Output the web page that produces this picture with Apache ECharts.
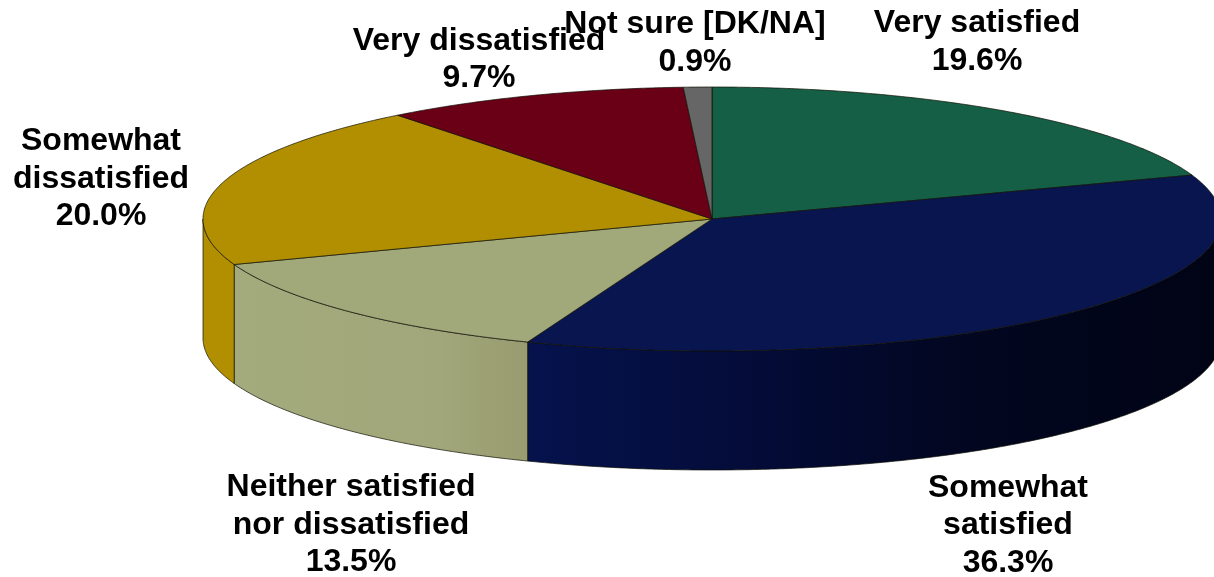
<!DOCTYPE html>
<html>
<head>
<meta charset="utf-8">
<style>html,body{margin:0;padding:0;background:#fff}#chart{width:1214px;height:577px}</style>
<script src="https://cdn.jsdelivr.net/npm/echarts@6/dist/echarts.min.js"></script>
</head>
<body>
<div id="chart"></div>
<script>
// Satisfaction survey shares, clockwise from twelve o'clock
const categories = ['Very satisfied', 'Somewhat satisfied', 'Neither satisfied nor dissatisfied', 'Somewhat dissatisfied', 'Very dissatisfied', 'Not sure [DK/NA]'];
const shares = [19.6, 36.3, 13.5, 20.0, 9.7, 0.9];
const labelLines = [['Very satisfied'], ['Somewhat', 'satisfied'], ['Neither satisfied', 'nor dissatisfied'], ['Somewhat', 'dissatisfied'], ['Very dissatisfied'], ['Not sure [DK/NA]']];

// Slice appearance
const topColors = ['#145f45', '#08154f', '#a1a87a', '#b18f00', '#6a0016', '#666666'];
const wallStops = [
  null,
  [[0, '#05124c'], [0.3, '#040c3a'], [0.65, '#02061f'], [1, '#010415']],
  [[0, '#a3aa7c'], [0.7, '#a1a77a'], [1, '#989c70']],
  [[0, '#b18f00'], [1, '#b18f00']],
  null,
  null
];

// Pie geometry in pixels
const pie = { cx: 712, cy: 219, rx: 509, ry: 132, depth: 119 };
// Label block centres (x, y of the first line) and line height
const labelAnchors = [[977, 23.5], [1008, 488], [351, 487.5], [101, 141.5], [479, 41], [695, 24.5]];
const lineHeight = 37.4;

const total = shares.reduce((a, b) => a + b, 0);
const startAngle = [];
shares.reduce((sum, v, i) => { startAngle[i] = sum / total * 360; return sum + v; }, 0);

function rimPoint(deg, drop) {
  const t = deg * Math.PI / 180;
  return [pie.cx + pie.rx * Math.sin(t), pie.cy - pie.ry * Math.cos(t) + (drop || 0)];
}
function arcPoints(from, to, drop) {
  const pts = [];
  const n = Math.max(2, Math.ceil((to - from) * 2));
  for (let k = 0; k <= n; k++) pts.push(rimPoint(from + (to - from) * k / n, drop));
  return pts;
}
const edge = { stroke: 'rgba(15,15,5,0.7)', lineWidth: 1 };

function renderWall(params, api) {
  const i = params.dataIndex;
  const a0 = startAngle[i];
  const a1 = a0 + api.value(0) / total * 360;
  const from = Math.max(a0, 90), to = Math.min(a1, 270);
  if (from >= to || !wallStops[i]) return { type: 'group', children: [] };
  const upper = arcPoints(from, to, 0);
  const lower = arcPoints(from, to, pie.depth).reverse();
  const xs = upper.map(p => p[0]);
  return {
    type: 'polygon',
    shape: { points: upper.concat(lower) },
    style: {
      fill: {
        type: 'linear', global: true,
        x: Math.min.apply(null, xs), y: 0, x2: Math.max.apply(null, xs), y2: 0,
        colorStops: wallStops[i].map(s => ({ offset: s[0], color: s[1] }))
      },
      stroke: edge.stroke, lineWidth: edge.lineWidth
    }
  };
}

function renderTop(params, api) {
  const i = params.dataIndex;
  const a0 = startAngle[i];
  const a1 = a0 + api.value(0) / total * 360;
  const pts = [[pie.cx, pie.cy]].concat(arcPoints(a0, a1, 0));
  return {
    type: 'polygon',
    shape: { points: pts },
    style: { fill: topColors[i], stroke: edge.stroke, lineWidth: edge.lineWidth }
  };
}

function renderLabel(params, api) {
  const i = params.dataIndex;
  const lines = labelLines[i].concat([api.value(0).toFixed(1) + '%']);
  return {
    type: 'group',
    children: lines.map((line, k) => ({
      type: 'text',
      style: {
        text: line,
        x: labelAnchors[i][0],
        y: labelAnchors[i][1] + k * lineHeight,
        align: 'center',
        verticalAlign: 'middle',
        fill: '#000',
        font: 'bold 32px "Liberation Sans", Arial, sans-serif'
      }
    }))
  };
}

const chart = echarts.init(document.getElementById('chart'), null, { renderer: 'canvas' });
const rows = shares.map((v, i) => ({ name: categories[i], value: [v] }));
chart.setOption({
  animation: false,
  backgroundColor: '#fff',
  series: [
    { type: 'custom', coordinateSystem: 'none', silent: true, z: 1, data: rows, renderItem: renderWall },
    { type: 'custom', coordinateSystem: 'none', silent: true, z: 2, data: rows, renderItem: renderTop },
    { type: 'custom', coordinateSystem: 'none', silent: true, z: 3, data: rows, renderItem: renderLabel }
  ]
});
</script>
</body>
</html>
